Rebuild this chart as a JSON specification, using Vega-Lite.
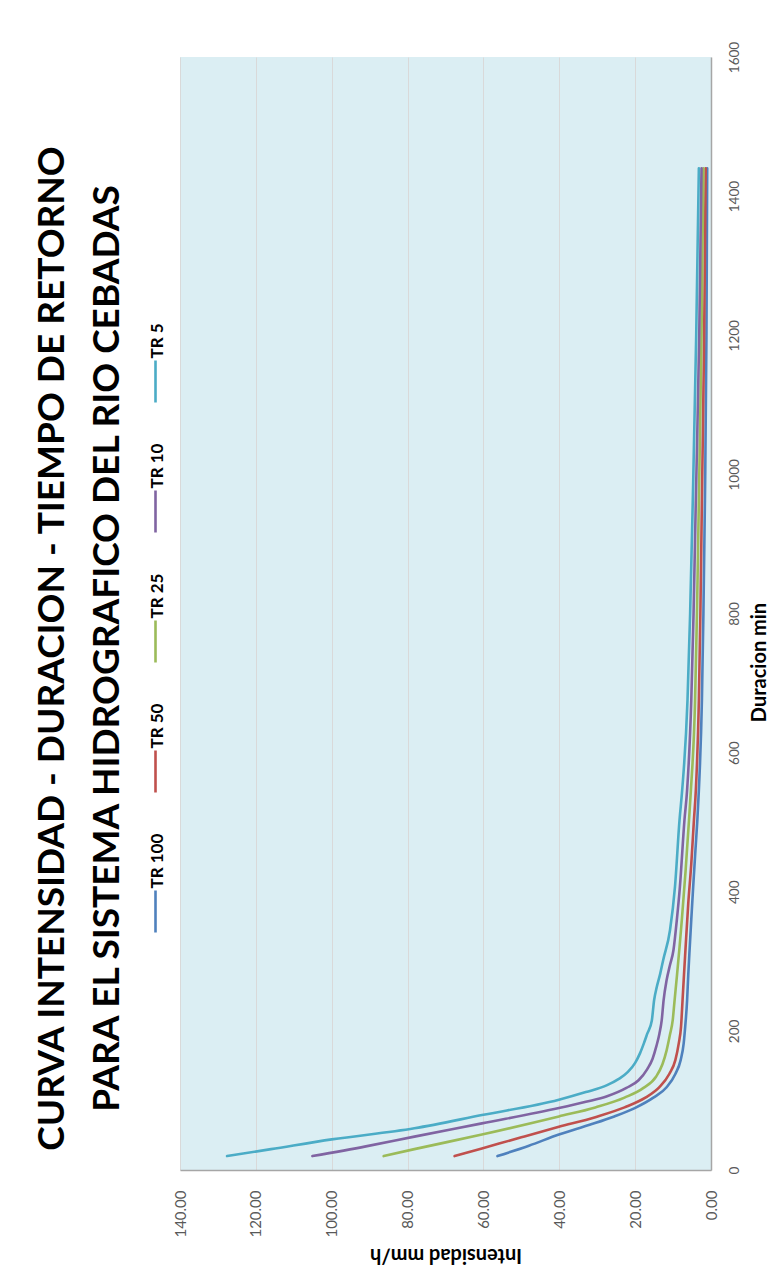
{
  "$schema": "https://vega.github.io/schema/vega-lite/v6.json",
  "width": 531,
  "height": 1113,
  "autosize": {"type": "none"},
  "padding": {"left": 180, "top": 57, "right": 69, "bottom": 105},
  "background": "white",
  "title": {
    "text": ["CURVA INTENSIDAD - DURACION - TIEMPO DE RETORNO", "PARA EL SISTEMA HIDROGRAFICO DEL RIO CEBADAS"],
    "orient": "left",
    "anchor": "middle",
    "font": "Lato",
    "fontSize": 37,
    "fontWeight": "bold",
    "color": "#000000",
    "lineHeight": 55,
    "offset": 20,
    "dx": -35
  },
  "data": {
    "values": [
      {"tr": "TR 100", "d": 20, "i": 56.3}, {"tr": "TR 100", "d": 35, "i": 48.0}, {"tr": "TR 100", "d": 51, "i": 40.1}, {"tr": "TR 100", "d": 65, "i": 32.0}, {"tr": "TR 100", "d": 77, "i": 25.5}, {"tr": "TR 100", "d": 89, "i": 20.1}, {"tr": "TR 100", "d": 104, "i": 15.2}, {"tr": "TR 100", "d": 119, "i": 11.7}, {"tr": "TR 100", "d": 138, "i": 9.4}, {"tr": "TR 100", "d": 158, "i": 8.0}, {"tr": "TR 100", "d": 182, "i": 7.2}, {"tr": "TR 100", "d": 206, "i": 6.8}, {"tr": "TR 100", "d": 244, "i": 6.3}, {"tr": "TR 100", "d": 280, "i": 6.0}, {"tr": "TR 100", "d": 311, "i": 5.7}, {"tr": "TR 100", "d": 360, "i": 5.2}, {"tr": "TR 100", "d": 407, "i": 4.7}, {"tr": "TR 100", "d": 460, "i": 4.1}, {"tr": "TR 100", "d": 503, "i": 3.6}, {"tr": "TR 100", "d": 546, "i": 3.2}, {"tr": "TR 100", "d": 675, "i": 2.4}, {"tr": "TR 100", "d": 800, "i": 2.0}, {"tr": "TR 100", "d": 963, "i": 1.6}, {"tr": "TR 100", "d": 1200, "i": 1.2}, {"tr": "TR 100", "d": 1440, "i": 1.0},
      {"tr": "TR 50", "d": 20, "i": 67.6}, {"tr": "TR 50", "d": 31, "i": 60.4}, {"tr": "TR 50", "d": 47, "i": 50.0}, {"tr": "TR 50", "d": 62, "i": 40.1}, {"tr": "TR 50", "d": 76, "i": 30.5}, {"tr": "TR 50", "d": 90, "i": 22.8}, {"tr": "TR 50", "d": 104, "i": 17.3}, {"tr": "TR 50", "d": 119, "i": 13.6}, {"tr": "TR 50", "d": 138, "i": 11.0}, {"tr": "TR 50", "d": 158, "i": 9.4}, {"tr": "TR 50", "d": 182, "i": 8.5}, {"tr": "TR 50", "d": 206, "i": 7.9}, {"tr": "TR 50", "d": 244, "i": 7.5}, {"tr": "TR 50", "d": 273, "i": 7.2}, {"tr": "TR 50", "d": 320, "i": 6.7}, {"tr": "TR 50", "d": 383, "i": 6.0}, {"tr": "TR 50", "d": 440, "i": 5.2}, {"tr": "TR 50", "d": 503, "i": 4.5}, {"tr": "TR 50", "d": 546, "i": 4.0}, {"tr": "TR 50", "d": 675, "i": 3.2}, {"tr": "TR 50", "d": 800, "i": 2.8}, {"tr": "TR 50", "d": 963, "i": 2.4}, {"tr": "TR 50", "d": 1200, "i": 1.8}, {"tr": "TR 50", "d": 1440, "i": 1.4},
      {"tr": "TR 25", "d": 20, "i": 86.3}, {"tr": "TR 25", "d": 30, "i": 78.2}, {"tr": "TR 25", "d": 51, "i": 60.4}, {"tr": "TR 25", "d": 77, "i": 40.1}, {"tr": "TR 25", "d": 90, "i": 30.5}, {"tr": "TR 25", "d": 104, "i": 22.8}, {"tr": "TR 25", "d": 118, "i": 17.8}, {"tr": "TR 25", "d": 134, "i": 14.5}, {"tr": "TR 25", "d": 152, "i": 12.8}, {"tr": "TR 25", "d": 172, "i": 11.7}, {"tr": "TR 25", "d": 195, "i": 10.8}, {"tr": "TR 25", "d": 215, "i": 10.1}, {"tr": "TR 25", "d": 244, "i": 9.6}, {"tr": "TR 25", "d": 278, "i": 9.0}, {"tr": "TR 25", "d": 320, "i": 8.3}, {"tr": "TR 25", "d": 359, "i": 7.7}, {"tr": "TR 25", "d": 430, "i": 6.7}, {"tr": "TR 25", "d": 503, "i": 5.8}, {"tr": "TR 25", "d": 546, "i": 5.3}, {"tr": "TR 25", "d": 675, "i": 4.2}, {"tr": "TR 25", "d": 800, "i": 3.7}, {"tr": "TR 25", "d": 963, "i": 3.2}, {"tr": "TR 25", "d": 1200, "i": 2.5}, {"tr": "TR 25", "d": 1440, "i": 2.0},
      {"tr": "TR 10", "d": 20, "i": 105.1}, {"tr": "TR 10", "d": 34, "i": 91.0}, {"tr": "TR 10", "d": 48, "i": 78.2}, {"tr": "TR 10", "d": 67, "i": 60.4}, {"tr": "TR 10", "d": 89, "i": 40.1}, {"tr": "TR 10", "d": 98, "i": 33.0}, {"tr": "TR 10", "d": 106, "i": 27.4}, {"tr": "TR 10", "d": 118, "i": 22.3}, {"tr": "TR 10", "d": 129, "i": 19.1}, {"tr": "TR 10", "d": 145, "i": 16.8}, {"tr": "TR 10", "d": 160, "i": 15.4}, {"tr": "TR 10", "d": 178, "i": 14.4}, {"tr": "TR 10", "d": 196, "i": 13.6}, {"tr": "TR 10", "d": 215, "i": 13.0}, {"tr": "TR 10", "d": 244, "i": 12.5}, {"tr": "TR 10", "d": 273, "i": 11.7}, {"tr": "TR 10", "d": 295, "i": 10.8}, {"tr": "TR 10", "d": 316, "i": 9.9}, {"tr": "TR 10", "d": 360, "i": 9.0}, {"tr": "TR 10", "d": 407, "i": 8.2}, {"tr": "TR 10", "d": 503, "i": 7.0}, {"tr": "TR 10", "d": 546, "i": 6.3}, {"tr": "TR 10", "d": 675, "i": 5.2}, {"tr": "TR 10", "d": 800, "i": 4.6}, {"tr": "TR 10", "d": 963, "i": 4.0}, {"tr": "TR 10", "d": 1200, "i": 3.1}, {"tr": "TR 10", "d": 1440, "i": 2.5},
      {"tr": "TR 5", "d": 20, "i": 127.6}, {"tr": "TR 5", "d": 30, "i": 116.0}, {"tr": "TR 5", "d": 44, "i": 100.0}, {"tr": "TR 5", "d": 60, "i": 78.2}, {"tr": "TR 5", "d": 79, "i": 60.4}, {"tr": "TR 5", "d": 101, "i": 40.1}, {"tr": "TR 5", "d": 112, "i": 33.0}, {"tr": "TR 5", "d": 122, "i": 27.4}, {"tr": "TR 5", "d": 131, "i": 24.3}, {"tr": "TR 5", "d": 141, "i": 21.9}, {"tr": "TR 5", "d": 154, "i": 20.0}, {"tr": "TR 5", "d": 168, "i": 18.7}, {"tr": "TR 5", "d": 182, "i": 17.7}, {"tr": "TR 5", "d": 196, "i": 16.8}, {"tr": "TR 5", "d": 215, "i": 15.6}, {"tr": "TR 5", "d": 244, "i": 15.0}, {"tr": "TR 5", "d": 263, "i": 14.3}, {"tr": "TR 5", "d": 282, "i": 13.4}, {"tr": "TR 5", "d": 302, "i": 12.6}, {"tr": "TR 5", "d": 345, "i": 10.8}, {"tr": "TR 5", "d": 407, "i": 9.5}, {"tr": "TR 5", "d": 503, "i": 8.3}, {"tr": "TR 5", "d": 546, "i": 7.6}, {"tr": "TR 5", "d": 675, "i": 6.2}, {"tr": "TR 5", "d": 800, "i": 5.5}, {"tr": "TR 5", "d": 963, "i": 4.8}, {"tr": "TR 5", "d": 1200, "i": 3.9}, {"tr": "TR 5", "d": 1440, "i": 3.2}
    ]
  },
  "mark": {"type": "line", "strokeWidth": 2.6, "strokeCap": "round", "interpolate": "monotone"},
  "encoding": {
    "x": {
      "field": "i",
      "type": "quantitative",
      "scale": {"domain": [0, 140], "reverse": true, "nice": false, "zero": false},
      "axis": {
        "orient": "bottom",
        "title": "Intensidad mm/h",
        "values": [0, 20, 40, 60, 80, 100, 120, 140],
        "format": ".2f",
        "grid": true,
        "gridColor": "#d9d9d9",
        "gridWidth": 1,
        "ticks": false,
        "domainColor": "#a6a6a6",
        "domainWidth": 1.5,
        "labelAngle": 270,
        "labelAlign": "right",
        "labelBaseline": "middle",
        "labelPadding": 20,
        "labelFont": "Lato",
        "labelFontSize": 15,
        "labelColor": "#595959",
        "labelFlush": false,
        "labelOverlap": false,
        "titleAngle": 180,
        "titleBaseline": "bottom",
        "titleFont": "Lato",
        "titleFontSize": 20,
        "titleFontWeight": "bold",
        "titleColor": "#000000",
        "titlePadding": 7
      }
    },
    "y": {
      "field": "d",
      "type": "quantitative",
      "scale": {"domain": [0, 1600], "nice": false},
      "axis": {
        "orient": "right",
        "title": "Duracion min",
        "values": [0, 200, 400, 600, 800, 1000, 1200, 1400, 1600],
        "format": "d",
        "grid": false,
        "ticks": false,
        "domainColor": "#a6a6a6",
        "domainWidth": 1.5,
        "labelAngle": 270,
        "labelAlign": "center",
        "labelBaseline": "top",
        "labelPadding": 16,
        "labelFont": "Lato",
        "labelFontSize": 13.5,
        "labelColor": "#595959",
        "labelFlush": false,
        "labelOverlap": false,
        "titleAngle": 270,
        "titleBaseline": "top",
        "titleFont": "Lato",
        "titleFontSize": 20,
        "titleFontWeight": "bold",
        "titleColor": "#000000",
        "titlePadding": 9,
        "titleY": 605
      }
    },
    "color": {
      "field": "tr",
      "type": "nominal",
      "scale": {
        "domain": ["TR 5", "TR 10", "TR 25", "TR 50", "TR 100"],
        "range": ["#4bacc6", "#8064a2", "#9bbb59", "#c0504d", "#4f81bd"]
      },
      "legend": {
        "orient": "none",
        "legendX": -33,
        "legendY": 293,
        "direction": "vertical",
        "title": null,
        "padding": 0,
        "symbolType": "M0,0.4L0,8.8",
        "symbolSize": 100,
        "symbolStrokeWidth": 2.6,
        "labelFont": "Lato",
        "labelFontSize": 17,
        "labelFontWeight": "bold",
        "labelColor": "#000000",
        "labelAlign": "left",
        "labelBaseline": "middle",
        "labelOffset": -6,
        "rowPadding": 35
      }
    },
    "order": {"field": "d", "type": "quantitative"}
  },
  "config": {
    "view": {"stroke": null, "fill": "#dbeef3"},
    "style": {"guide-label": {"angle": -90}}
  }
}
